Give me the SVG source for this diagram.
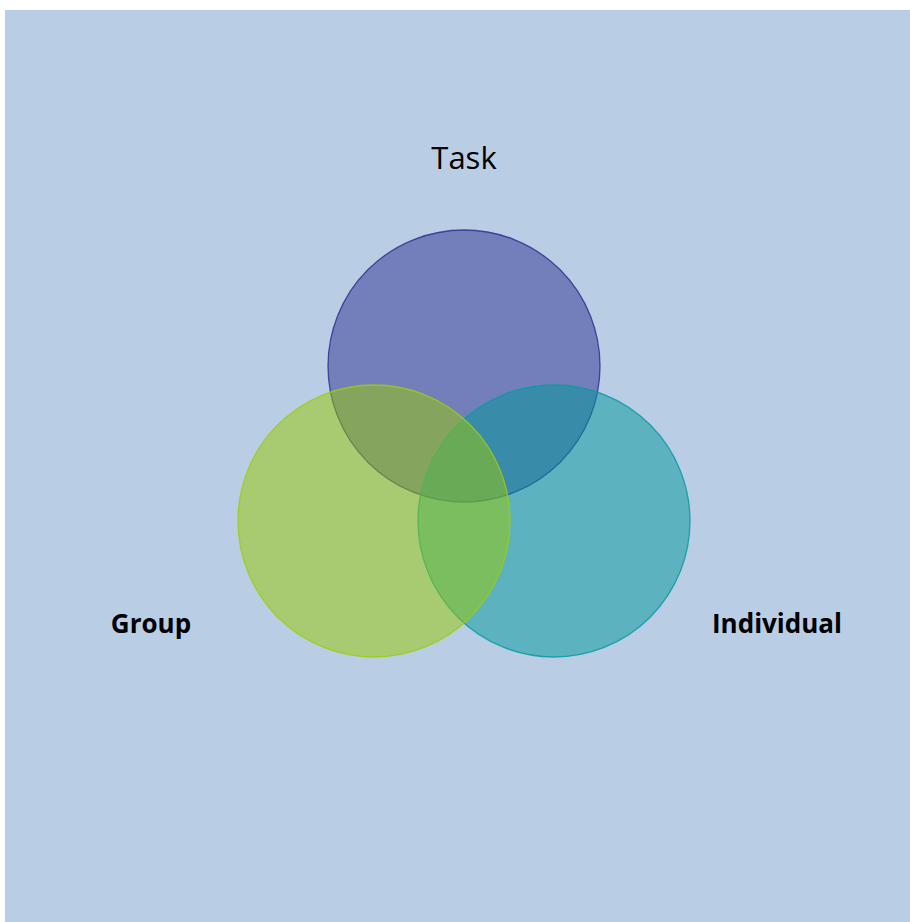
<svg xmlns="http://www.w3.org/2000/svg" width="910" height="922" viewBox="0 0 910 922">
<style>
.lbl{font-family:"Open Sans","Liberation Sans",sans-serif;fill:#000}
.b{font-weight:bold}
.c{fill-opacity:0.5;stroke-width:1.3;stroke-opacity:0.85}
</style>
<rect x="0" y="0" width="910" height="922" fill="#ffffff"/>
<rect x="5" y="10" width="905" height="912" fill="#b9cde4"/>
<g id="task">
<circle class="c" cx="464" cy="366" r="136" fill="#2e3192" stroke="#2e3192"/>
<text class="lbl" x="464" y="169" font-size="31" text-anchor="middle">Task</text>
</g>
<g id="individual">
<circle class="c" cx="554" cy="521" r="136" fill="#00979a" stroke="#0a9aa3"/>
<text class="lbl b" x="777" y="633" font-size="26" text-anchor="middle">Individual</text>
</g>
<g id="group">
<circle class="c" cx="374" cy="521" r="136" fill="#97c900" stroke="#9ccc10"/>
<text class="lbl b" x="151" y="633" font-size="26" text-anchor="middle">Group</text>
</g>
<g id="connectors"></g>
</svg>
